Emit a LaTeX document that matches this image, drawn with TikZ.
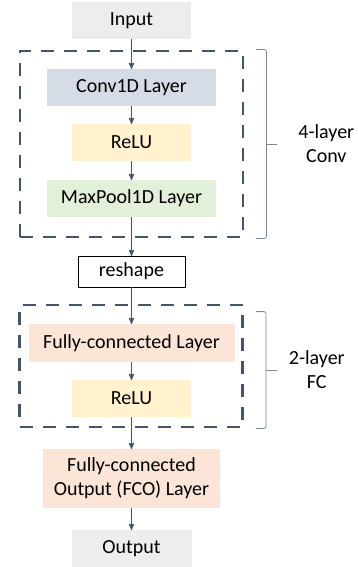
\documentclass[tikz,border=0pt]{standalone}
\usepackage{fontspec}
\setmainfont{Carlito}
\usetikzlibrary{arrows,calc,fit,positioning}
\definecolor{slate}{HTML}{44546A}
\definecolor{iogrey}{HTML}{EDEDED}
\definecolor{convblue}{HTML}{D6DCE5}
\definecolor{reluyellow}{HTML}{FFF2CC}
\definecolor{poolgreen}{HTML}{E2F0D9}
\definecolor{fcpeach}{HTML}{FBE5D6}
\tikzset{>=stealth',auto}
\tikzset{layer/.style={rectangle,minimum height=37pt,inner sep=0pt,outer sep=0pt,
    font=\fontsize{20}{24}\selectfont,text=black}}

\begin{document}
\begin{tikzpicture}[x=1pt,y=1pt,
    io/.style={layer,fill=iogrey,minimum width=119pt},
    relu/.style={layer,fill=reluyellow,minimum width=119pt},
    dashbox/.style={draw=slate,line width=2.8pt,dash pattern=on 13pt off 10pt,inner sep=0pt},
    bracket/.style={draw=slate!70,line width=0.8pt,rounded corners=2pt},
    flow/.style={->,draw=slate,line width=1.2pt}]
    \useasboundingbox (0,0) rectangle (357,-567);
    \node[io] (input) at (131.5,-20.5) {Input};
    \node[layer,fill=convblue,minimum width=169pt] (conv) [below=30pt of input] {Conv1D Layer};
    \node[relu] (relu1) [below=18pt of conv] {ReLU};
    \node[layer,fill=poolgreen,minimum width=169pt] (pool) [below=19pt of relu1] {MaxPool1D Layer};
    \node[layer,draw=black,line width=1pt,fill=white,minimum width=107pt,minimum height=31pt] (reshape) [below=39pt of pool] {reshape};
    \node[layer,fill=fcpeach,minimum width=206pt,minimum height=38pt] (fc1) [below=37pt of reshape] {Fully-connected Layer};
    \node[relu] (relu2) [below=18pt of fc1] {ReLU};
    \node[layer,fill=fcpeach,minimum width=177pt,minimum height=59pt,align=center] (fco) [below=32pt of relu2] {Fully-connected\\Output (FCO) Layer};
    \node[io,minimum width=120pt] (output) [below=22pt of fco] {Output};

    % dashed groups
    \node[dashbox,fit={($(conv.north west)+(-27,18)$) ($(pool.south east)+(27,-20)$)}] (convgrp) {};
    \node[dashbox,fit={($(fc1.north west)+(-9,19)$) ($(relu2.south -| fc1.east)+(8,-10)$)}] (fcgrp) {};

    % braces
    \coordinate (cmid) at ($(convgrp.east)+(22,0)$);
    \draw[bracket] ($(convgrp.north east)+(12,0)$) -| (cmid) |- ($(convgrp.south east)+(12,0)$);
    \draw[bracket] (cmid) -- ++(11,0) coordinate (ctip);
    \node[layer,align=center,minimum height=0pt] (convlbl) [right=21pt of ctip] {4-layer\\Conv};

    \coordinate (fmid) at ($(fcgrp.east)+(22,-4)$);
    \draw[bracket] ($(fcgrp.north east)+(12,-8)$) -| (fmid) |- ($(fcgrp.south east)+(12,0)$);
    \draw[bracket] (fmid) -- ++(11,0) coordinate (ftip);
    \node[layer,align=center,minimum height=0pt] (fclbl) [right=12pt of ftip] {2-layer\\FC};

    \path[flow]
        (input) edge (conv)
        (conv) edge (relu1)
        (relu1) edge (pool)
        (pool) edge (reshape)
        (reshape) edge (fc1)
        (fc1) edge (relu2)
        (relu2) edge (fco)
        (fco) edge (output)
    ;
\end{tikzpicture}
\end{document}
